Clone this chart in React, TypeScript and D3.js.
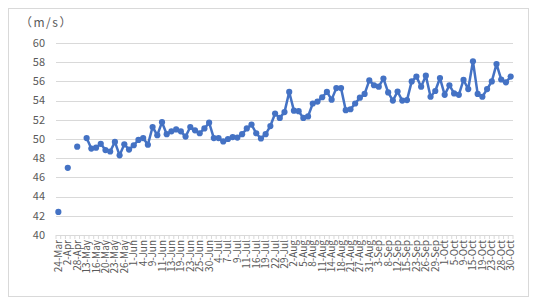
import React from "react";
import * as d3 from "d3";

const categories: string[] = [
  "24-Mar", "28-Mar", "2-Apr", "15-Apr", "28-Apr", "8-May", "13-May", "14-May", "16-May", "18-May",
  "20-May", "21-May", "23-May", "24-May", "26-May", "28-May", "1-Jun", "2-Jun", "4-Jun", "5-Jun",
  "9-Jun", "10-Jun", "11-Jun", "12-Jun", "13-Jun", "16-Jun", "19-Jun", "21-Jun", "23-Jun", "24-Jun",
  "25-Jun", "27-Jun", "30-Jun", "2-Jul", "4-Jul", "5-Jul", "7-Jul", "8-Jul", "9-Jul", "10-Jul",
  "11-Jul", "14-Jul", "16-Jul", "17-Jul", "19-Jul", "20-Jul", "22-Jul", "25-Jul", "29-Jul", "31-Jul",
  "2-Aug", "3-Aug", "5-Aug", "6-Aug", "8-Aug", "9-Aug", "11-Aug", "12-Aug", "14-Aug", "16-Aug",
  "18-Aug", "19-Aug", "21-Aug", "24-Aug", "27-Aug", "29-Aug", "31-Aug", "1-Sep", "3-Sep", "5-Sep",
  "8-Sep", "10-Sep", "12-Sep", "13-Sep", "15-Sep", "19-Sep", "23-Sep", "24-Sep", "26-Sep", "27-Sep",
  "29-Sep", "30-Sep", "1-Oct", "3-Oct", "5-Oct", "7-Oct", "9-Oct", "12-Oct", "15-Oct", "17-Oct",
  "19-Oct", "21-Oct", "23-Oct", "25-Oct", "28-Oct", "29-Oct", "30-Oct",
];

const speeds: (number | null)[] = [
  42.4, null, 47.0, null, 49.2, null, 50.1, 49.0, 49.1, 49.5,
  48.85, 48.7, 49.7, 48.3, 49.45, 48.9, 49.35, 49.9, 50.1, 49.4,
  51.25, 50.4, 51.75, 50.5, 50.8, 51.0, 50.8, 50.25, 51.25, 50.9,
  50.6, 51.1, 51.7, 50.1, 50.1, 49.75, 50.0, 50.2, 50.15, 50.5,
  51.1, 51.5, 50.6, 50.05, 50.5, 51.35, 52.65, 52.2, 52.8, 54.9,
  52.95, 52.9, 52.2, 52.35, 53.7, 53.9, 54.35, 54.9, 54.1, 55.3,
  55.3, 53.0, 53.1, 53.7, 54.3, 54.7, 56.1, 55.6, 55.45, 56.3,
  54.85, 54.0, 54.95, 54.0, 54.05, 56.0, 56.5, 55.45, 56.6, 54.4,
  55.0, 56.35, 54.6, 55.6, 54.75, 54.6, 56.15, 55.2, 58.1, 54.7,
  54.4, 55.2, 56.0, 57.8, 56.2, 55.9, 56.5,
];

const yTicks: number[] = [40, 42, 44, 46, 48, 50, 52, 54, 56, 58, 60];
const unitLabel = "（m/s）";

const W = 521;
const H = 289;
const L = 48;
const R = 505;
const TOP = 35;
const BOT = 227;
const FONT = "'Noto Sans CJK JP', 'Noto Sans', sans-serif";
const GRID = "#d9d9d9";
const TEXT = "#595959";
const BLUE = "#4472C4";

export default function App() {
  const x = d3
    .scaleBand<number>()
    .domain(categories.map((_, i) => i))
    .range([L, R]);
  const cx = (i: number) => (x(i) as number) + x.bandwidth() / 2;
  const y = d3.scaleLinear().domain([40, 60]).range([BOT, TOP]);

  const line = d3
    .line<number | null>()
    .defined((d) => d !== null)
    .x((_, i) => cx(i))
    .y((d) => y(d as number));

  const boundaries = d3.range(categories.length + 1).map((i) => L + i * x.bandwidth());

  return (
    <svg width={W} height={H} style={{ display: "block" }} fontFamily={FONT}>
      <rect x={0.5} y={0.5} width={W - 1} height={H - 1} fill="#fff" stroke={GRID} />
      <text x={12} y={14.7} dy="0.35em" fontSize={12} letterSpacing={1.5} fill={TEXT}>
        {unitLabel}
      </text>
      {yTicks.map((t) => (
        <g key={t}>
          <line x1={L} x2={R} y1={Math.round(y(t)) + 0.5} y2={Math.round(y(t)) + 0.5} stroke={GRID} />
          <text x={37} y={y(t)} dy="0.35em" textAnchor="end" fontSize={11} fill={TEXT}>
            {t}
          </text>
        </g>
      ))}
      {boundaries.map((b, i) => (
        <line key={i} x1={b} x2={b} y1={BOT} y2={BOT + 4} stroke={GRID} />
      ))}
      {categories.map((c, i) =>
        i % 2 === 0 ? (
          <text
            key={c}
            transform={`translate(${cx(i)},${BOT + 5}) rotate(-90)`}
            dy="0.35em"
            textAnchor="end"
            fontSize={10}
            fill={TEXT}
          >
            {c}
          </text>
        ) : null
      )}
      <path d={line(speeds) || ""} fill="none" stroke={BLUE} strokeWidth={2.5} strokeLinejoin="round" />
      {speeds.map((v, i) =>
        v === null ? null : <circle key={i} cx={cx(i)} cy={y(v)} r={3.1} fill={BLUE} />
      )}
    </svg>
  );
}
